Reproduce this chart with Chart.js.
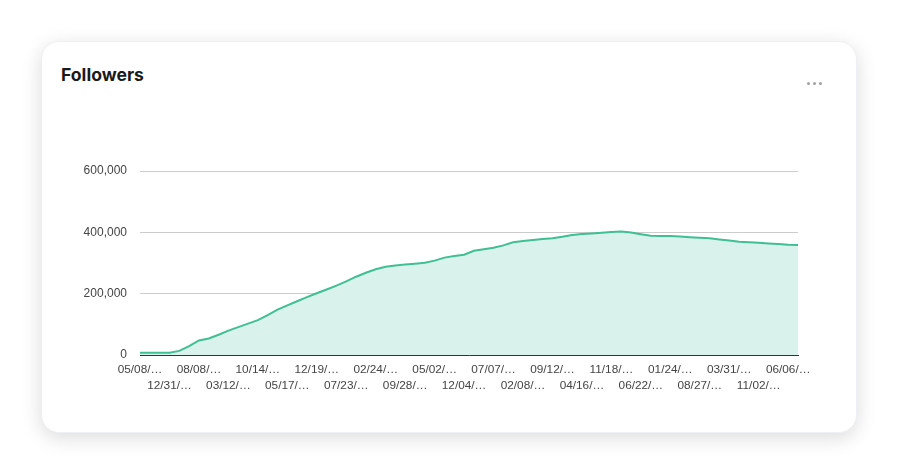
<!DOCTYPE html>
<html>
<head>
<meta charset="utf-8">
<script src="https://cdn.jsdelivr.net/npm/chart.js@4.4.0/dist/chart.umd.min.js"></script>
<style>
  html, body { margin: 0; padding: 0; background: #fff; }
  body { width: 898px; height: 474px; position: relative; overflow: hidden; font-family: Inter, "Noto Sans", sans-serif; }
  .card {
    position: absolute; left: 41px; top: 41px; width: 816px; height: 392px;
    background: #fff; border-radius: 18px;
    box-shadow: 0 5px 20px rgba(0, 0, 0, 0.14);
    border: 1px solid #eef0f3; box-sizing: border-box;
  }
  .title { position: absolute; left: 61px; top: 64px; font-size: 17.6px; font-weight: 700; color: #1a1a1a; }
  .dots { position: absolute; left: 807px; top: 82px; height: 3px; }
  .dots span { float: left; width: 3px; height: 3px; border-radius: 50%; background: #a0a0a0; margin-right: 3px; }
  #chart1 { position: absolute; left: 0; top: 0; }
</style>
</head>
<body>
<div class="card"></div>
<div class="title">Followers</div>
<div class="dots"><span></span><span></span><span></span></div>
<canvas id="chart1" width="898" height="474"></canvas>
<script>
// tick labels shown on the x axis (one every third data point)
var tickLabels = ['05/08/…', '12/31/…', '08/08/…', '03/12/…', '10/14/…', '05/17/…',
    '12/19/…', '07/23/…', '02/24/…', '09/28/…', '05/02/…', '12/04/…', '07/07/…',
    '02/08/…', '09/12/…', '04/16/…', '11/18/…', '06/22/…', '01/24/…', '08/27/…',
    '03/31/…', '11/02/…', '06/06/…'];

// followers
var followers = [
    7000, 7000, 7000, 7000, 13400, 29000, 47300, 53800, 66200, 79500,
    91000, 102400, 113800, 130100, 147700, 161700, 175400, 188500, 201200, 213600,
    226300, 240300, 255300, 268100, 279800, 287600, 291900, 294800, 297700, 300700,
    307800, 317600, 322500, 327100, 339800, 345000, 349900, 357400, 367500, 371400,
    375000, 378000, 380600, 385400, 391300, 394300, 396500, 398800, 400800, 402700,
    399500, 393900, 389000, 388400, 388100, 386100, 384100, 382500, 380600, 377000,
    373400, 369500, 367500, 365900, 363900, 361600, 359400, 358700
];

var yTicks = [0, 200000, 400000, 600000];

function makeLabels() {
    var labels = [];
    for (var i = 0; i < followers.length; i++) {
        labels.push(i % 3 == 0 && tickLabels[i / 3] ? tickLabels[i / 3] : '');
    }
    return labels;
}

function makeChart() {
    var ctx1 = document.getElementById('chart1').getContext('2d');
    var labels = makeLabels();
    new Chart(ctx1, {
        type: 'line',
        data: {
            labels: labels,
            datasets: [{
                label: 'Followers',
                data: followers,
                borderColor: '#3fbf93',
                backgroundColor: '#d9f2eb',
                borderWidth: 2,
                fill: 'origin',
                pointRadius: 0,
                tension: 0
            }]
        },
        options: {
            responsive: false,
            animation: false,
            layout: { padding: { left: 0, top: 171, right: 100, bottom: 0 } },
            plugins: {
                legend: { display: false },
                tooltip: { enabled: false }
            },
            scales: {
                x: {
                    grid: { display: false, drawTicks: false },
                    border: { display: true, color: '#333', width: 1 },
                    ticks: {
                        autoSkip: false,
                        maxRotation: 0,
                        padding: 6,
                        color: '#444',
                        font: { family: 'Arial, "Liberation Sans", sans-serif', size: 11.8, lineHeight: 1.4 },
                        callback: function(value, index) {
                            var t = labels[index];
                            if (!t) return '';
                            return (index / 3) % 2 == 0 ? [t] : ['', t];
                        }
                    },
                    afterFit: function(s) { s.height = 119; }
                },
                y: {
                    min: 0,
                    max: 600000,
                    afterBuildTicks: function(s) { s.ticks = yTicks.map(function(v) { return { value: v }; }); },
                    grid: { color: '#cccccc', drawTicks: false },
                    border: { display: false },
                    ticks: {
                        padding: 13,
                        color: '#444',
                        font: { family: 'Arial, "Liberation Sans", sans-serif', size: 12 },
                        callback: function(v) { return v.toLocaleString('en-US'); }
                    },
                    afterFit: function(s) { s.width = 140; }
                }
            }
        }
    });
}

window.onload = function() {
    makeChart();
};
</script>
</body>
</html>
